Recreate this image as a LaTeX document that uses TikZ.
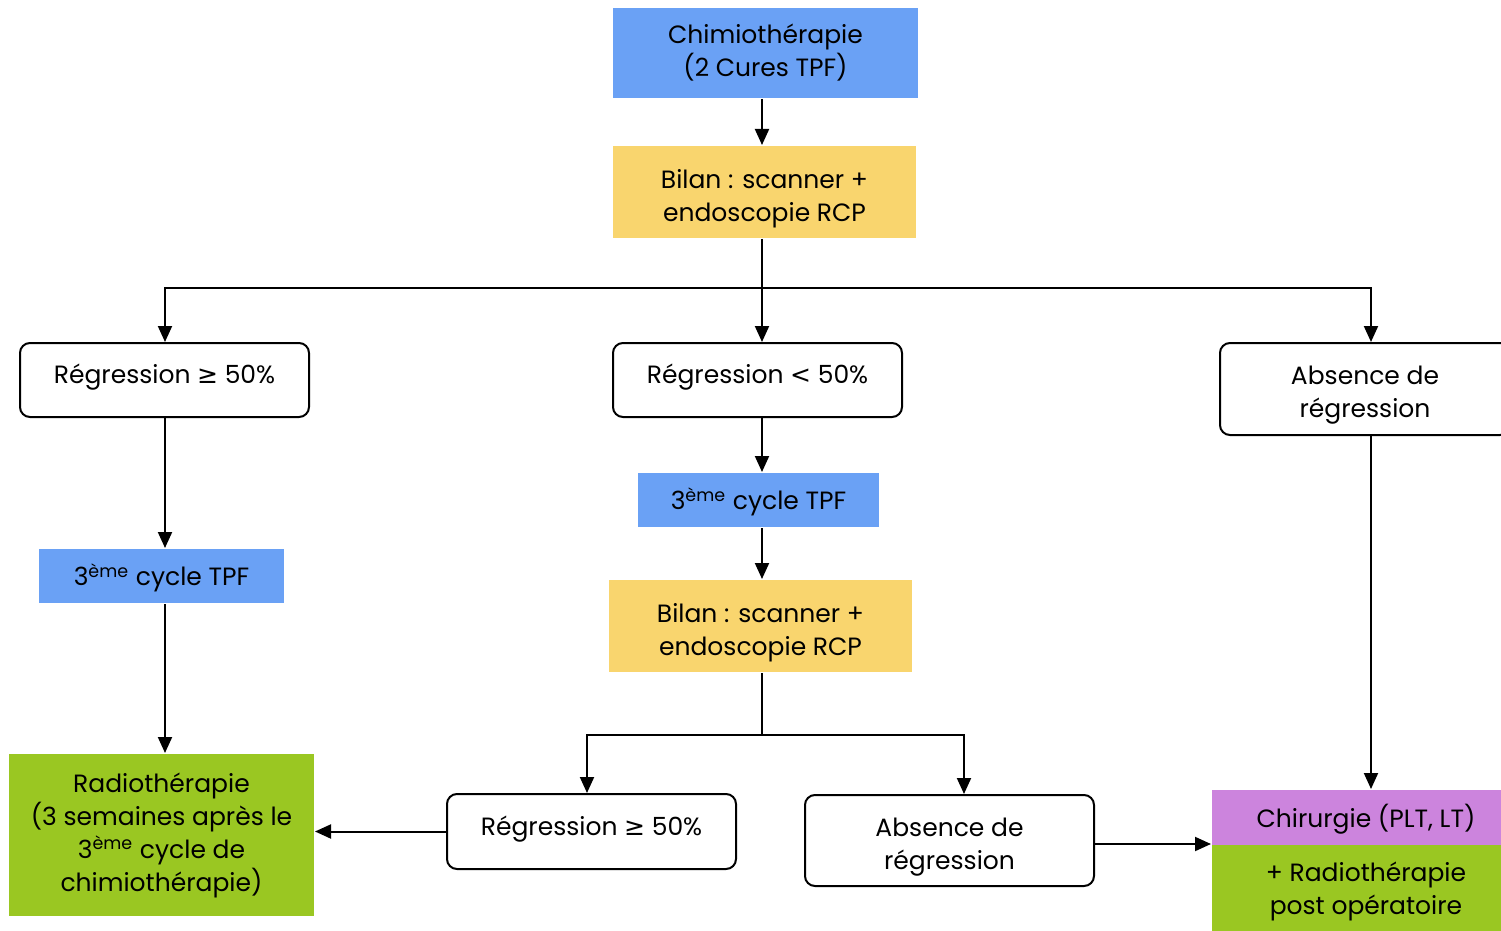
\documentclass[tikz,border=0pt]{standalone}
\usepackage{fontspec}
\setmainfont{Poppins}
\newfontfamily\symfont{DejaVu Sans}
\usetikzlibrary{arrows.meta,positioning}

\definecolor{cureblue}{RGB}{106,161,245}
\definecolor{bilanyellow}{RGB}{249,213,110}
\definecolor{radiogreen}{RGB}{154,199,34}
\definecolor{chirpurple}{RGB}{204,132,221}

\newcommand{\geqsym}{{\symfont ≥}}
\newcommand{\lesym}{{\symfont <}}

\tikzset{
  box/.style={inner sep=2pt,align=center,font=\fontsize{12.5pt}{16.5pt}\selectfont},
  cure/.style={box,fill=cureblue},
  bilan/.style={box,fill=bilanyellow},
  radio/.style={box,fill=radiogreen},
  chir/.style={box,fill=chirpurple},
  issue/.style={box,draw,line width=1pt,rounded corners=5pt,fill=white},
}

\begin{document}
\begin{tikzpicture}[x=0.5pt,y=-0.5pt,line width=1pt,>={Triangle[width=7pt,length=8pt]}]
  \useasboundingbox (0,0) rectangle (1501,931);
  \clip (0,0) rectangle (1501,931);
  % colonnes
  \coordinate (left)  at (165,0);
  \coordinate (mid)   at (762,0);
  \coordinate (right) at (1371,0);
  \coordinate (split) at (762,288);
  \coordinate (split2) at (762,735);
  \coordinate (brC) at (587,735);
  \coordinate (brD) at (964,735);

  \node[cure,minimum width=152.5pt,minimum height=45pt]   (chimio) at (765.5,53) {Chimiothérapie\\(2 Cures TPF)};
  \node[bilan,minimum width=151.5pt,minimum height=46pt,
        label={[box,yshift=-3.5pt]center:{Bilan : scanner +\\endoscopie RCP}}] (bilan1) at (764.5,192) {};
  \node[issue,minimum width=144.5pt,minimum height=37pt,
        label={[box,yshift=1.5pt]center:{Régression \geqsym{} 50\%}}] (regA) at (164.5,380) {};
  \node[issue,minimum width=144.5pt,minimum height=37pt,
        label={[box,yshift=1.5pt]center:{Régression \lesym{} 50\%}}] (regB) at (757.5,380) {};
  \node[issue,minimum width=145pt,minimum height=46pt,
        label={[box,yshift=-3pt]center:{Absence de\\régression}}] (absA) at (1365,389) {};
  \node[cure,minimum width=122.5pt,minimum height=27pt,
        label={[box,yshift=-1pt]center:{3\textsuperscript{ème} cycle TPF}}] (cycA) at (161.5,576) {};
  \node[cure,minimum width=120.5pt,minimum height=27pt,
        label={[box,yshift=-1pt]center:{3\textsuperscript{ème} cycle TPF}}] (cycB) at (758.5,500) {};
  \node[bilan,minimum width=151.5pt,minimum height=46pt,
        label={[box,yshift=-3.5pt]center:{Bilan : scanner +\\endoscopie RCP}}] (bilan2) at (760.5,626) {};
  \node[radio,minimum width=152.5pt,minimum height=81pt]  (radio) at (161.5,835) {Radiothérapie\\(3 semaines après le\\3\textsuperscript{ème} cycle de\\chimiothérapie)};
  \node[issue,minimum width=144.5pt,minimum height=37.5pt,
        label={[box,yshift=1pt]center:{Régression \geqsym{} 50\%}}] (regC) at (591.5,831.5) {};
  \node[issue,minimum width=144.5pt,minimum height=45.5pt,
        label={[box,yshift=-3.5pt]center:{Absence de\\régression}}] (absB) at (949.5,840.5) {};
  \node[chir,minimum width=154pt,minimum height=27.5pt,
        label={[box,yshift=-1pt]center:{Chirurgie (PLT, LT)}}] (chir) at (1366,817.5) {};
  \node[radio,minimum width=154pt,minimum height=43pt,
        label={[box,yshift=-1.5pt]center:{+ Radiothérapie\\post opératoire}}] (radpost) at (1366,888) {};

  \draw[->] (mid |- chimio.south) -- (mid |- bilan1.north);
  \draw[->] (mid |- bilan1.south) -- (mid |- regB.north);
  \draw[->] (split) -| (left |- regA.north);
  \draw[->] (split) -| (right |- absA.north);
  \draw[->] (left |- regA.south) -- (left |- cycA.north);
  \draw[->] (left |- cycA.south) -- (left |- radio.north);
  \draw[->] (mid |- regB.south) -- (mid |- cycB.north);
  \draw[->] (mid |- cycB.south) -- (mid |- bilan2.north);
  \draw (mid |- bilan2.south) -- (split2);
  \draw[->] (split2) -- (brC) -- (brC |- regC.north);
  \draw[->] (split2) -- (brD) -- (brD |- absB.north);
  \draw[->] (regC.west) -- (regC.west -| radio.east);
  \draw[->] (absB.east |- radpost.north) -- (radpost.north west);
  \draw[->] (right |- absA.south) -- (right |- chir.north);
\end{tikzpicture}
\end{document}
